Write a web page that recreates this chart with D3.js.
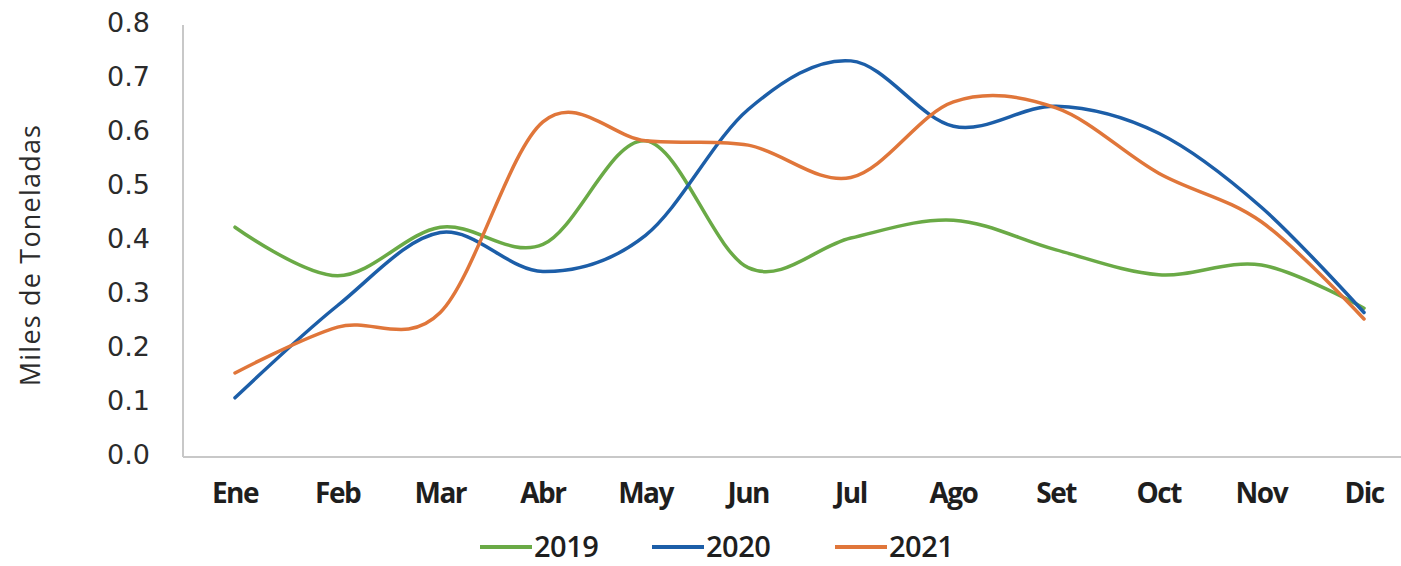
<!DOCTYPE html>
<html>
<head>
<meta charset="utf-8">
<script src="https://cdn.jsdelivr.net/npm/d3@7"></script>
<style>
  html, body { margin: 0; padding: 0; background: #fff; }
  svg { display: block; }
</style>
</head>
<body>
<svg id="chart" width="1401" height="566"></svg>
<script>
// Monthly volumes, thousands of tonnes
const months = ["Ene", "Feb", "Mar", "Abr", "May", "Jun", "Jul", "Ago", "Set", "Oct", "Nov", "Dic"];
const v2019 = [0.42, 0.33, 0.42, 0.388, 0.58, 0.345, 0.40, 0.433, 0.378, 0.332, 0.35, 0.27];
const v2020 = [0.104, 0.275, 0.41, 0.338, 0.405, 0.638, 0.728, 0.607, 0.644, 0.594, 0.457, 0.262];
const v2021 = [0.15, 0.235, 0.262, 0.615, 0.58, 0.572, 0.512, 0.652, 0.641, 0.52, 0.43, 0.25];
const yTicks = [0, 0.1, 0.2, 0.3, 0.4, 0.5, 0.6, 0.7, 0.8];
const seriesNames = ["2019", "2020", "2021"];
const seriesColors = ["#6aaa46", "#1c5ea8", "#e0763a"];

const series = [v2019, v2020, v2021].map((vals, i) => ({
  name: seriesNames[i], color: seriesColors[i], values: vals
}));

const svg = d3.select("#chart");
const width = 1401;

const x = d3.scalePoint().domain(months).range([235, 1364]);
const y = d3.scaleLinear().domain([0, 0.8]).range([454, 22]);

// Axis lines
svg.append("line")
  .attr("x1", 183).attr("x2", 183).attr("y1", 25).attr("y2", 457)
  .attr("stroke", "#c8c8c8").attr("stroke-width", 2);
svg.append("line")
  .attr("x1", 183).attr("x2", width).attr("y1", 457).attr("y2", 457)
  .attr("stroke", "#c8c8c8").attr("stroke-width", 2);

// Y tick labels
svg.append("g").selectAll("text")
  .data(yTicks)
  .join("text")
  .attr("x", 150)
  .attr("y", d => y(d))
  .attr("dy", "0.36em")
  .attr("text-anchor", "end")
  .attr("font-family", "'DejaVu Sans', sans-serif")
  .attr("font-size", 27)
  .attr("fill", "#2b2b2b")
  .text(d => d3.format(".1f")(d));

// X tick labels
svg.append("g").selectAll("text")
  .data(months)
  .join("text")
  .attr("x", d => x(d))
  .attr("y", 493)
  .attr("dy", "0.36em")
  .attr("text-anchor", "middle")
  .attr("font-family", "'Open Sans', sans-serif")
  .attr("font-weight", 700)
  .attr("font-size", 28)
  .attr("letter-spacing", "-1.5px")
  .attr("fill", "#1e1e1e")
  .text(d => d);

// Y axis title
svg.append("text")
  .attr("transform", "translate(40,255) rotate(-90)")
  .attr("text-anchor", "middle")
  .attr("font-family", "'Open Sans', sans-serif")
  .attr("font-size", 27)
  .attr("letter-spacing", "1.2px")
  .attr("fill", "#2b2b2b")
  .text("Miles de Toneladas");

// Smoothed series lines
const line = d3.line()
  .x((d, i) => x(months[i]))
  .y(d => y(d))
  .curve(d3.curveCardinal.tension(0));

svg.append("g").selectAll("path")
  .data(series)
  .join("path")
  .attr("d", d => line(d.values))
  .attr("fill", "none")
  .attr("stroke", d => d.color)
  .attr("stroke-width", 3.5)
  .attr("stroke-linecap", "round");

// Legend
const legendX = [480, 652, 835];
const legend = svg.append("g").selectAll("g")
  .data(series)
  .join("g")
  .attr("transform", (d, i) => `translate(${legendX[i]},547)`);
legend.append("line")
  .attr("x1", 0).attr("x2", 52).attr("y1", 0).attr("y2", 0)
  .attr("stroke", d => d.color).attr("stroke-width", 4);
legend.append("text")
  .attr("x", 54)
  .attr("dy", "0.36em")
  .attr("font-family", "'Open Sans', sans-serif")
  .attr("font-weight", 600)
  .attr("font-size", 29)
  .attr("letter-spacing", "-0.5px")
  .attr("fill", "#1e1e1e")
  .text(d => d.name);
</script>
</body>
</html>
